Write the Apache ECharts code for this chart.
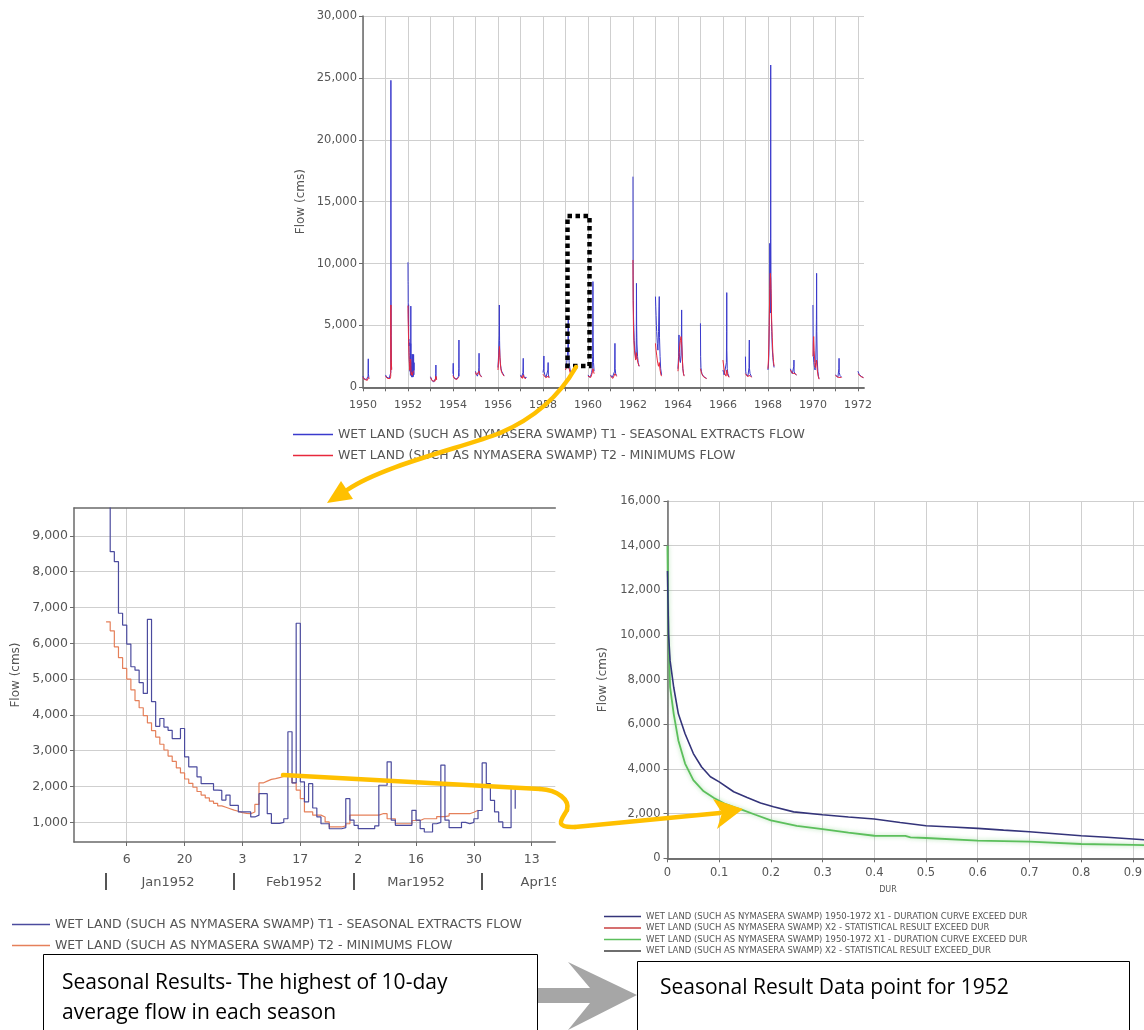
<!DOCTYPE html>
<html>
<head>
<meta charset="utf-8">
<script src="https://cdn.jsdelivr.net/npm/echarts@6/dist/echarts.min.js"></script>
<style>
html,body{margin:0;padding:0;background:#fff;}
#chart{width:1144px;height:1030px;}
</style>
</head>
<body>
<div id="chart"></div>
<script>
// ---- Seasonal series 1950-1972 (day of season, flow in cms) ----
const seasonYears = [1950, 1951, 1953, 1954, 1955, 1956, 1957, 1958, 1959, 1960, 1961,
  1962, 1963, 1964, 1965, 1966, 1967, 1968, 1969, 1970, 1971, 1972];

const t1Seasons = [
  [[0,900],[8,780],[16,700],[25,640],[35,600],[45,700],[55,620],[65,560],[75,650],[82,900],[86,2300],[88,1100],[95,800],[100,700]],
  [[0,1000],[10,900],[20,820],[30,760],[40,700],[50,680],[60,720],[70,760],[80,820],[86,1200],[88,24800],[90,9800],[92,4200],[95,2000],[100,1500]],
  [[0,860],[10,700],[20,600],[30,520],[40,460],[50,420],[60,480],[70,520],[80,700],[86,1100],[88,1800],[90,900],[100,650]],
  [[0,1100],[4,1940],[8,900],[20,760],[30,680],[40,620],[50,700],[60,650],[70,700],[80,760],[90,900],[95,1500],[97,3820],[99,1200],[100,900]],
  [[0,1300],[10,1100],[20,950],[30,900],[40,1000],[50,1200],[56,1600],[58,2750],[60,1400],[70,1050],[80,950],[90,900],[100,850]],
  [[0,1600],[10,2600],[18,4200],[22,6650],[26,3800],[32,2400],[40,1900],[50,1500],[60,1300],[70,1200],[80,1100],[90,1000],[100,950]],
  [[0,1000],[10,900],[20,820],[30,760],[40,1200],[45,2340],[48,1100],[60,800],[70,720],[80,700],[90,760],[100,800]],
  [[0,1200],[10,1500],[15,2530],[18,1300],[30,1000],[40,900],[50,820],[60,780],[70,900],[80,1400],[84,2000],[88,1000],[100,800]],
  [[0,1600],[10,1800],[20,2000],[30,2400],[40,3600],[45,5440],[50,3000],[60,2000],[70,1600],[80,1300],[90,1200],[100,1100]],
  [[0,1000],[10,900],[20,850],[30,800],[40,900],[50,1000],[60,1200],[70,1500],[76,2500],[81,8540],[84,4000],[90,2000],[100,1300]],
  [[0,1000],[10,920],[20,860],[30,800],[40,780],[50,820],[60,900],[68,1300],[73,3550],[76,1500],[85,1100],[100,950]],
  [[0,17020],[2,9000],[5,7000],[10,5500],[15,4600],[20,3800],[30,3000],[40,2600],[50,2300],[55,4000],[57,8400],[60,5000],[65,3500],[75,2500],[85,2000],[100,1700]],
  [[0,7330],[5,6500],[10,5800],[15,5000],[20,4500],[25,4000],[30,3550],[40,3000],[50,4500],[58,6500],[62,7330],[66,4000],[75,2500],[85,1500],[100,1000]],
  [[0,1500],[10,2500],[17,4230],[22,2800],[30,2200],[40,2000],[50,2600],[56,4000],[60,6250],[64,3500],[72,2200],[80,1500],[90,1100],[100,950]],
  [[0,5170],[3,2500],[8,1600],[15,1300],[25,1100],[35,1000],[45,900],[55,850],[65,800],[75,780],[85,760],[100,720]],
  [[0,1400],[10,1200],[20,1000],[30,950],[40,900],[50,1100],[56,2000],[60,4500],[62,7650],[64,3000],[70,1500],[80,1100],[90,950],[100,850]],
  [[0,2480],[4,1300],[10,1100],[20,1000],[30,950],[40,900],[50,1000],[58,1600],[63,3820],[66,1500],[75,1100],[88,950],[100,850]],
  [[0,1400],[8,1800],[15,2600],[22,5000],[28,8000],[30,11630],[33,7000],[38,6000],[42,9000],[45,26040],[47,12000],[50,8000],[55,6000],[62,4500],[70,3200],[80,2400],[90,1900],[100,1600]],
  [[0,1500],[10,1300],[20,1200],[30,1100],[40,1050],[50,1200],[55,1700],[57,2200],[60,1300],[70,1100],[85,1050],[100,1000]],
  [[0,6650],[3,3500],[8,2500],[15,2000],[25,1600],[35,1400],[45,2000],[52,3500],[57,5500],[60,9210],[63,4500],[70,2200],[80,1300],[90,900],[100,700]],
  [[0,1000],[10,950],[20,900],[30,850],[40,820],[50,900],[56,1500],[59,2340],[62,1200],[75,950],[90,880],[100,820]],
  [[0,1300],[5,1450],[10,1200],[20,1050],[30,950],[40,900],[50,880],[60,850],[70,820],[80,800],[90,780]]
];

const t2Seasons = [
  [[0,820],[10,720],[20,650],[30,600],[40,580],[50,560],[60,540],[70,560],[80,620],[88,800],[95,700],[100,650]],
  [[0,900],[15,800],[30,720],[45,660],[60,640],[75,700],[85,900],[88,6650],[90,4100],[94,2200],[100,1400]],
  [[0,780],[15,640],[30,520],[45,440],[60,420],[75,500],[88,900],[100,600]],
  [[0,950],[15,760],[30,640],[45,600],[60,620],[75,660],[90,800],[100,850]],
  [[0,1200],[15,1000],[30,880],[45,900],[58,1300],[70,1000],[85,900],[100,820]],
  [[0,1400],[10,2200],[18,2900],[24,3300],[30,2600],[40,1800],[50,1400],[60,1200],[70,1100],[85,1000],[100,900]],
  [[0,900],[15,800],[30,720],[45,1000],[60,760],[75,680],[90,700],[100,720]],
  [[0,1050],[15,1200],[30,900],[45,780],[60,720],[75,800],[88,900],[100,750]],
  [[0,1400],[15,1600],[30,1800],[45,1940],[60,1500],[75,1200],[90,1000],[100,950]],
  [[0,900],[15,820],[30,760],[45,800],[60,1000],[75,1300],[82,1500],[90,1300],[100,1100]],
  [[0,900],[20,800],[40,720],[60,800],[73,1100],[85,1000],[100,880]],
  [[0,10290],[3,7000],[8,5000],[15,3800],[25,3000],[35,2500],[45,2200],[57,2800],[65,2400],[80,2000],[100,1700]],
  [[0,3550],[10,3000],[20,2600],[30,2200],[40,1900],[50,1700],[62,2000],[75,1400],[90,1000],[100,900]],
  [[0,1300],[10,2000],[20,2800],[30,3400],[40,3800],[50,4100],[60,3600],[70,2500],[80,1500],[90,1100],[100,900]],
  [[0,1500],[10,1300],[20,1100],[35,950],[50,850],[65,780],[80,740],[100,700]],
  [[0,2200],[10,1800],[20,1400],[30,1100],[40,950],[50,900],[62,1400],[75,1000],[90,850],[100,800]],
  [[0,1100],[15,950],[30,880],[45,850],[60,1000],[75,950],[90,850],[100,800]],
  [[0,1500],[8,2200],[15,3500],[22,5500],[30,8000],[38,9210],[45,8800],[52,7600],[60,5500],[70,4000],[80,2800],[90,2100],[100,1700]],
  [[0,1400],[15,1250],[30,1150],[45,1100],[60,1200],[75,1100],[100,1000]],
  [[0,2500],[6,3500],[12,4100],[20,3000],[30,2000],[40,1600],[50,1500],[60,2200],[70,1400],[85,900],[100,650]],
  [[0,950],[15,880],[30,820],[45,800],[60,950],[75,880],[100,800]],
  [[0,1100],[10,1200],[20,1050],[30,950],[45,880],[60,840],[75,800],[90,780]]
];

// ---- 1952 season, daily values from 1 Jan 1952 (index = day) ----
const detailYear = 1952;
const t1Daily1952 = [10100,8560,8280,6840,6510,5980,5345,5250,4900,4600,
  6670,4370,3680,3900,3660,3570,3340,3340,3620,2830,
  2550,2550,2270,2080,2080,2080,1900,1890,1620,1760,
  1475,1475,1290,1290,1290,1150,1200,1800,1800,1240,
  970,970,1000,1100,3530,2100,6560,2130,1570,2080,
  1400,1150,960,960,820,820,820,850,1660,1060,
  915,823,823,823,823,900,2035,2035,2690,1060,
  915,915,915,915,1335,1060,823,730,730,960,
  1000,2600,1060,850,850,850,1000,960,1000,1100,
  1330,2660,2080,1615,1290,1010,850,850,1990,1380];
const t2Daily1952 = [6600,6350,5900,5600,5300,5000,4700,4400,4200,3980,
  3780,3560,3380,3180,3020,2850,2700,2520,2380,2210,
  2090,1980,1860,1760,1680,1590,1530,1460,1420,1380,
  1340,1310,1270,1250,1240,1290,1500,2100,2150,2200,
  2220,2250,2280,2300,2320,2100,1900,1660,1290,1290,
  1200,1200,1150,1010,870,870,870,900,960,1200,
  1200,1200,1200,1200,1200,1200,1240,1240,1100,1100,
  960,960,960,960,1050,1050,1100,1100,1100,1100,
  1160,1160,1180,1240,1240,1240,1240,1240,1280,1335,1335];

// ---- Duration curves (exceedance fraction, flow) ----
const durT1X = [0,0.002,0.005,0.012,0.021,0.034,0.05,0.066,0.083,0.1,0.128,0.154,0.18,0.205,0.244,0.3,0.35,0.4,0.45,0.5,0.55,0.6,0.65,0.7,0.75,0.8,0.85,0.9,0.94];
const durT1Y = [12870,10040,8850,7660,6470,5580,4690,4090,3650,3420,2980,2720,2480,2310,2080,1950,1850,1760,1600,1460,1400,1340,1260,1190,1100,1010,940,865,800];
const durT2X = [0,0.002,0.005,0.012,0.021,0.034,0.05,0.07,0.09,0.11,0.13,0.146,0.17,0.2,0.25,0.3,0.35,0.4,0.46,0.47,0.5,0.6,0.7,0.8,0.9,0.94];
const durT2Y = [14000,10040,7660,6470,5280,4240,3500,3000,2700,2450,2280,2160,1950,1700,1450,1310,1150,1010,1000,940,910,790,745,640,600,580];

// ---- Tick positions and labels ----
const yearTicks = [1950,1951,1952,1953,1954,1955,1956,1957,1958,1959,1960,1961,1962,1963,1964,1965,1966,1967,1968,1969,1970,1971,1972];
const yearLabels = [1950,1952,1954,1956,1958,1960,1962,1964,1966,1968,1970,1972];
const dayTickValues = [5,19,33,47,61,75,89,103];
const dayTickLabels = ['6','20','3','17','2','16','30','13'];
const monthStartDays = [0,31,60,91];
const monthMidDays = [15,45.5,75,107];
const monthLabels = ['Jan1952','Feb1952','Mar1952','Apr1952'];
const detailFlowTicks = [1000,2000,3000,4000,5000,6000,7000,8000,9000];

const legendText = {
  topT1: 'WET LAND (SUCH AS NYMASERA SWAMP) T1 - SEASONAL EXTRACTS FLOW',
  topT2: 'WET LAND (SUCH AS NYMASERA SWAMP) T2 - MINIMUMS FLOW',
  leftT1: 'WET LAND (SUCH AS NYMASERA SWAMP) T1 - SEASONAL EXTRACTS FLOW',
  leftT2: 'WET LAND (SUCH AS NYMASERA SWAMP) T2 - MINIMUMS FLOW',
  durT1: 'WET LAND (SUCH AS NYMASERA SWAMP) 1950-1972 X1 - DURATION CURVE EXCEED DUR',
  statT1: 'WET LAND (SUCH AS NYMASERA SWAMP) X2 - STATISTICAL RESULT EXCEED DUR',
  durT2: 'WET LAND (SUCH AS NYMASERA SWAMP) 1950-1972 X1 - DURATION CURVE EXCEED DUR',
  statT2: 'WET LAND (SUCH AS NYMASERA SWAMP) X2 - STATISTICAL RESULT EXCEED_DUR'
};

// Join every season on a fractional-year axis, with a gap between seasons
function seasonalSeries(seasons, daily) {
  const all = seasonYears.map((y, i) => ({ year: y, pts: seasons[i] }));
  all.push({ year: detailYear, pts: daily.map((v, d) => [d, v]) });
  all.sort((a, b) => a.year - b.year);
  const out = [];
  all.forEach(s => {
    s.pts.forEach(p => out.push([s.year + p[0] / 366, p[1]]));
    out.push([s.year + 0.6, null]);
  });
  return out;
}
const zip = (xs, ys) => xs.map((x, i) => [x, ys[i]]);

const FONT = 'DejaVu Sans';
const NOTE_FONT = '21px "Open Sans"';
const axisLine = { show: true, onZero: false, lineStyle: { color: '#6a6a6a', width: 1.5 } };
const gridLine = { show: true, lineStyle: { color: '#cfcfcf', width: 1 } };
const tickStyle = { color: '#6a6a6a', width: 1 };
const borderAxis = (gi) => ({
  type: 'value', gridIndex: gi, position: 'top', min: 0, max: 1,
  axisLine: { show: true, lineStyle: { color: '#6a6a6a', width: 1.5 } },
  axisTick: { show: false }, axisLabel: { show: false }, splitLine: { show: false }
});

const chart = echarts.init(document.getElementById('chart'), null, { renderer: 'canvas' });

chart.setOption({
  animation: false,
  backgroundColor: '#ffffff',
  grid: [
    { left: 363, top: 16, width: 501, height: 371.3, outerBoundsMode: 'none', containLabel: false },
    { left: 74, top: 508, width: 481.3, height: 334, outerBoundsMode: 'none', containLabel: false },
    { left: 667.5, top: 501, width: 517, height: 357.3, outerBoundsMode: 'none', containLabel: false }
  ],
  xAxis: [
    { type: 'value', gridIndex: 0, min: 1950, max: 1972.27,
      axisLine: axisLine,
      axisTick: { show: true, customValues: yearTicks, length: 4, lineStyle: tickStyle },
      axisLabel: { customValues: yearLabels, margin: 12, fontFamily: FONT, fontSize: 11, color: '#555',
        formatter: v => String(Math.round(v)) },
      splitLine: gridLine },
    borderAxis(0),
    { type: 'value', gridIndex: 1, min: -7.76, max: 108.7,
      axisLine: axisLine,
      axisTick: { show: true, customValues: dayTickValues, length: 4, lineStyle: tickStyle },
      axisLabel: { customValues: dayTickValues, margin: 11, fontFamily: FONT, fontSize: 12.5, color: '#555',
        formatter: v => dayTickLabels[dayTickValues.indexOf(v)] },
      splitLine: gridLine },
    { type: 'value', gridIndex: 1, position: 'bottom', offset: 31, min: -7.76, max: 108.7,
      axisLine: { show: false },
      axisTick: { show: true, customValues: monthStartDays, length: 17, lineStyle: { color: '#555', width: 2 } },
      axisLabel: { customValues: monthMidDays, margin: 3, fontFamily: FONT, fontSize: 13, color: '#555',
        formatter: v => monthLabels[monthMidDays.indexOf(v)] },
      splitLine: { show: false } },
    borderAxis(1),
    { type: 'value', gridIndex: 2, min: 0, max: 1, interval: 0.1,
      axisLine: axisLine,
      axisTick: { show: true, length: 4, lineStyle: tickStyle },
      axisLabel: { margin: 9, fontFamily: FONT, fontSize: 11.5, color: '#555' },
      splitLine: gridLine,
      name: 'DUR', nameLocation: 'middle', nameGap: 28,
      nameTextStyle: { fontFamily: FONT, fontSize: 8, color: '#555', padding: [0, 76, 0, 0] } },
    borderAxis(2)
  ],
  yAxis: [
    { type: 'value', gridIndex: 0, min: 0, max: 30000, interval: 5000,
      axisLine: axisLine,
      axisTick: { show: true, length: 4, lineStyle: tickStyle },
      axisLabel: { margin: 6, fontFamily: FONT, fontSize: 11.5, color: '#555' },
      splitLine: gridLine,
      name: 'Flow (cms)', nameLocation: 'middle', nameRotate: 90, nameGap: 56,
      nameTextStyle: { fontFamily: FONT, fontSize: 12, color: '#555' } },
    { type: 'value', gridIndex: 1, min: 450, max: 9780,
      axisLine: axisLine,
      axisTick: { show: true, customValues: detailFlowTicks, length: 4, lineStyle: tickStyle },
      axisLabel: { customValues: detailFlowTicks, margin: 6, fontFamily: FONT, fontSize: 12.5, color: '#555' },
      splitLine: gridLine,
      name: 'Flow (cms)', nameLocation: 'middle', nameRotate: 90, nameGap: 52,
      nameTextStyle: { fontFamily: FONT, fontSize: 12, color: '#555' } },
    { type: 'value', gridIndex: 2, min: 0, max: 16000, interval: 2000,
      axisLine: axisLine,
      axisTick: { show: true, length: 4, lineStyle: tickStyle },
      axisLabel: { margin: 7, fontFamily: FONT, fontSize: 11.5, color: '#555' },
      splitLine: gridLine,
      name: 'Flow (cms)', nameLocation: 'middle', nameRotate: 90, nameGap: 59,
      nameTextStyle: { fontFamily: FONT, fontSize: 12, color: '#555' } }
  ],
  legend: [
    { data: ['topT1', 'topT2'], left: 293, top: 428, orient: 'vertical', padding: 0,
      icon: 'rect', itemWidth: 40, itemHeight: 1.5, itemGap: 8, selectedMode: false,
      formatter: n => legendText[n],
      textStyle: { fontFamily: FONT, fontSize: 12.5, lineHeight: 13, color: '#555' } },
    { data: ['leftT1', 'leftT2'], left: 12, top: 918, orient: 'vertical', padding: 0,
      icon: 'rect', itemWidth: 38, itemHeight: 1.5, itemGap: 8, selectedMode: false,
      formatter: n => legendText[n],
      textStyle: { fontFamily: FONT, fontSize: 12.5, lineHeight: 13, color: '#555' } },
    { data: ['durT1', 'statT1', 'durT2', 'statT2'], left: 604, top: 912, orient: 'vertical', padding: 0,
      icon: 'rect', itemWidth: 37, itemHeight: 1.5, itemGap: 2.5, selectedMode: false,
      formatter: n => legendText[n],
      textStyle: { fontFamily: FONT, fontSize: 8.5, lineHeight: 9, color: '#555' } }
  ],
  series: [
    { name: 'topT1', type: 'line', xAxisIndex: 0, yAxisIndex: 0, showSymbol: false, color: '#3a3acd',
      lineStyle: { width: 1 }, connectNulls: false, data: seasonalSeries(t1Seasons, t1Daily1952), z: 3 },
    { name: 'topT2', type: 'line', xAxisIndex: 0, yAxisIndex: 0, showSymbol: false, color: '#e8283c',
      lineStyle: { width: 1 }, connectNulls: false, data: seasonalSeries(t2Seasons, t2Daily1952), z: 4 },
    { name: 'leftT1', type: 'line', xAxisIndex: 2, yAxisIndex: 1, showSymbol: false, step: 'end', color: '#4b4b9e',
      lineStyle: { width: 1.2 }, data: t1Daily1952.map((v, d) => [d, v]), z: 4 },
    { name: 'leftT2', type: 'line', xAxisIndex: 2, yAxisIndex: 1, showSymbol: false, step: 'end', color: '#e5805a',
      lineStyle: { width: 1.2 }, data: t2Daily1952.map((v, d) => [d, v]), z: 3 },
    { name: 'durT1', type: 'line', xAxisIndex: 5, yAxisIndex: 2, showSymbol: false, color: '#34347a',
      lineStyle: { width: 1.6 }, data: zip(durT1X, durT1Y), z: 4 },
    { name: 'statT1', type: 'line', xAxisIndex: 5, yAxisIndex: 2, showSymbol: false, color: '#c84040', data: [] },
    { name: 'durT2', type: 'line', xAxisIndex: 5, yAxisIndex: 2, showSymbol: false, color: '#5cbf5c',
      lineStyle: { width: 1.8, shadowBlur: 4, shadowColor: 'rgba(110,200,110,0.6)' }, data: zip(durT2X, durT2Y), z: 3 },
    { name: 'statT2', type: 'line', xAxisIndex: 5, yAxisIndex: 2, showSymbol: false, color: '#3e3e3e', data: [] }
  ],
  graphic: [
    // the detail chart is cut off at its right side
    { type: 'rect', z: 50, shape: { x: 556, y: 848, width: 45, height: 50 }, style: { fill: '#ffffff' } },
    // dotted frame around one season in the overview
    { type: 'rect', z: 60, shape: { x: 567.5, y: 216, width: 22, height: 150 },
      style: { fill: 'none', stroke: '#000', lineWidth: 4.5, lineDash: [4.5, 3.5] } },
    // callout arrow: overview -> 1952 detail
    { type: 'bezierCurve', z: 70, shape: { x1: 576, y1: 367, cpx1: 560, cpy1: 395, cpx2: 535, cpy2: 418, x2: 500, y2: 433 },
      style: { stroke: '#FFC000', lineWidth: 4.5, fill: 'none', lineCap: 'round' } },
    { type: 'bezierCurve', z: 70, shape: { x1: 500, y1: 433, cpx1: 465, cpy1: 447, cpx2: 384, cpy2: 465, x2: 347, y2: 490 },
      style: { stroke: '#FFC000', lineWidth: 4.5, fill: 'none', lineCap: 'round' } },
    { type: 'polygon', z: 70, shape: { points: [[327, 503], [353, 499], [341, 481]] }, style: { fill: '#FFC000' } },
    // callout arrow: 1952 seasonal peak -> duration curve
    { type: 'line', z: 70, shape: { x1: 283, y1: 775, x2: 540, y2: 789 },
      style: { stroke: '#FFC000', lineWidth: 4.5, lineCap: 'round' } },
    { type: 'bezierCurve', z: 70, shape: { x1: 540, y1: 789, cpx1: 558, cpy1: 790, cpx2: 570, cpy2: 800, x2: 567, y2: 810 },
      style: { stroke: '#FFC000', lineWidth: 4.5, fill: 'none', lineCap: 'round' } },
    { type: 'bezierCurve', z: 70, shape: { x1: 567, y1: 810, cpx1: 563, cpy1: 818, cpx2: 552, cpy2: 828, x2: 575, y2: 827 },
      style: { stroke: '#FFC000', lineWidth: 4.5, fill: 'none', lineCap: 'round' } },
    { type: 'line', z: 70, shape: { x1: 575, y1: 827, x2: 720, y2: 813 },
      style: { stroke: '#FFC000', lineWidth: 4.5, lineCap: 'round' } },
    { type: 'polygon', z: 70, shape: { points: [[743, 809], [713, 799], [722, 813], [717, 829]] }, style: { fill: '#FFC000' } },
    // grey block arrow between the notes
    { type: 'polygon', z: 80, shape: { points: [[537, 988], [590, 988], [568, 962], [637, 995], [568, 1030], [590, 1003], [537, 1003]] },
      style: { fill: '#a6a6a6' } },
    // note boxes
    { type: 'rect', z: 90, shape: { x: 43.5, y: 954.5, width: 494, height: 90 },
      style: { fill: '#ffffff', stroke: '#000', lineWidth: 1 } },
    { type: 'text', z: 91, x: 62, y: 983,
      style: { text: 'Seasonal Results- The highest of 10-day', font: NOTE_FONT, fill: '#000', textVerticalAlign: 'middle' } },
    { type: 'text', z: 91, x: 62, y: 1013,
      style: { text: 'average flow in each season', font: NOTE_FONT, fill: '#000', textVerticalAlign: 'middle' } },
    { type: 'rect', z: 90, shape: { x: 637.5, y: 961.5, width: 492, height: 90 },
      style: { fill: '#ffffff', stroke: '#000', lineWidth: 1 } },
    { type: 'text', z: 91, x: 660, y: 988,
      style: { text: 'Seasonal Result Data point for 1952', font: NOTE_FONT, fill: '#000', textVerticalAlign: 'middle' } }
  ]
});
</script>
</body>
</html>
